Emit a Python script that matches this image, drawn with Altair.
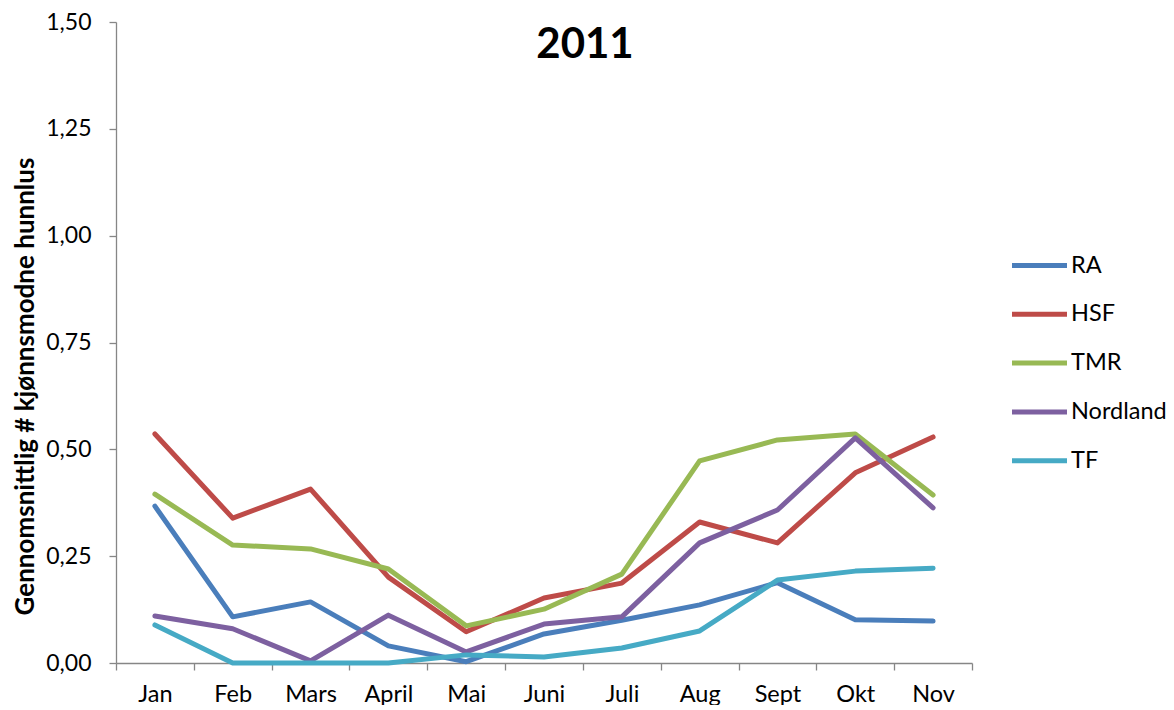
import altair as alt
import pandas as pd

months = ["Jan", "Feb", "Mars", "April", "Mai", "Juni", "Juli", "Aug", "Sept", "Okt", "Nov"]
series = ["RA", "HSF", "TMR", "Nordland", "TF"]
ra = [0.367, 0.108, 0.143, 0.040, 0.003, 0.068, 0.100, 0.136, 0.188, 0.101, 0.098]
hsf = [0.536, 0.339, 0.407, 0.201, 0.073, 0.152, 0.187, 0.330, 0.281, 0.445, 0.529]
tmr = [0.395, 0.276, 0.267, 0.220, 0.087, 0.126, 0.208, 0.473, 0.522, 0.536, 0.393]
nordland = [0.110, 0.080, 0.005, 0.112, 0.026, 0.091, 0.108, 0.281, 0.358, 0.527, 0.363]
tf = [0.089, 0.0, 0.0, 0.0, 0.019, 0.014, 0.035, 0.075, 0.194, 0.215, 0.222]
colors = ["#4A7EBB", "#BE4B48", "#98B954", "#7D60A0", "#46AAC5"]
y_ticks = [0, 0.25, 0.5, 0.75, 1.0, 1.25, 1.5]

rows = []
for name, vals in zip(series, [ra, hsf, tmr, nordland, tf]):
    for i, (m, v) in enumerate(zip(months, vals)):
        rows.append({"series": name, "month": m, "value": v, "idx": i})
df = pd.DataFrame(rows)

FONT = "Lato"

chart = alt.Chart(df).mark_line(
    strokeWidth=5, strokeCap="round", strokeJoin="round"
).encode(
    x=alt.X(
        "month:N",
        sort=months,
        bandPosition=0.5,
        scale=alt.Scale(type="band", domain=months, paddingInner=0, paddingOuter=0),
        axis=alt.Axis(
            title=None, tickBand="extent", labelAngle=0, labelFont=FONT,
            labelFontSize=23.5, labelColor="#000000", domainColor="#868686",
            tickColor="#868686", tickSize=7, labelPadding=12, domainWidth=1.3,
            tickWidth=1.3, grid=False,
        ),
    ),
    y=alt.Y(
        "value:Q",
        scale=alt.Scale(domain=[0, 1.5], nice=False, zero=True),
        axis=alt.Axis(
            values=y_ticks,
            labelExpr="replace(format(datum.value, '.2f'), '.', ',')",
            title="Gennomsnittlig # kjønnsmodne hunnlus",
            titleFont=FONT, titleFontSize=26, titleFontWeight="bold",
            titleColor="#000000", titleAngle=270, titleBaseline="middle",
            titleAlign="center", titleX=-91, titleY=364,
            labelFont=FONT, labelFontSize=23, labelColor="#000000",
            domainColor="#868686", tickColor="#868686", tickSize=7,
            labelPadding=18, domainWidth=1.3, tickWidth=1.3, grid=False,
        ),
    ),
    color=alt.Color(
        "series:N",
        scale=alt.Scale(domain=series, range=colors),
        legend=alt.Legend(
            title=None, orient="none", legendX=910, legendY=230,
            symbolType="M-2.5,0L2.5,0", symbolSize=484, symbolStrokeWidth=5,
            labelFont=FONT, labelFontSize=23.5, labelColor="#000000",
            labelOffset=18, rowPadding=23.8, padding=0,
        ),
    ),
    order=alt.Order("idx:Q"),
).properties(
    width=856,
    height=641,
    autosize=alt.AutoSizeParams(type="none"),
    padding={"left": 108, "top": 14, "right": 194, "bottom": 42},
    title=alt.TitleParams(
        "2011", font=FONT, fontSize=42, fontWeight="bold", color="#000000",
        anchor="middle", dx=41, baseline="top", offset=0, dy=56,
    ),
).configure_view(stroke=None)

chart.save("out.html", embed_options={"renderer": "svg", "actions": False})
